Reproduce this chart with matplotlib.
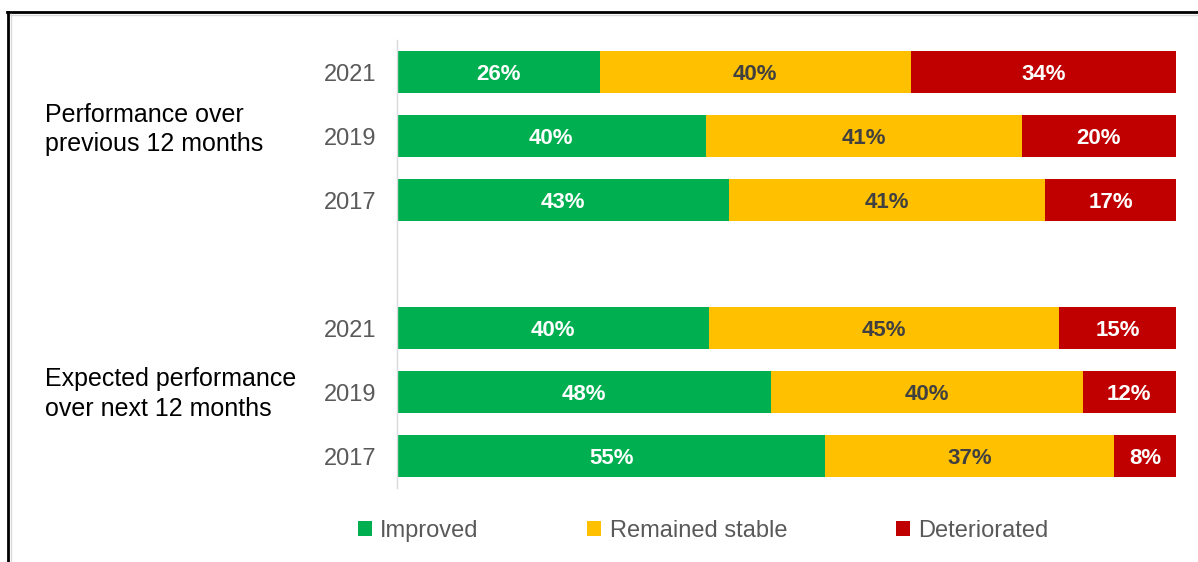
import matplotlib
matplotlib.use('Agg')
import matplotlib.pyplot as plt
import matplotlib.transforms as mtransforms
from matplotlib.patches import Patch
from matplotlib.lines import Line2D
import numpy as np

plt.rcParams['font.family'] = ['Liberation Sans', 'DejaVu Sans']

# --- survey shares (%), top row first
years = ["2021", "2019", "2017", "2021", "2019", "2017"]
improved = [26, 40, 43, 40, 48, 55]
stable = [40, 41, 41, 45, 40, 37]
deteriorated = [34, 20, 17, 15, 12, 8]
groups = ["Performance over\nprevious 12 months",
          "Expected performance\nover next 12 months"]
series_names = ["Improved", "Remained stable", "Deteriorated"]

colors = ["#00B050", "#FFC000", "#C00000"]
label_colors = ["white", "#404040", "white"]

# --- rows 0-2 and 4-6, leaving an empty slot between the two groups
ypos = np.array([0, 1, 2, 4, 5, 6])
vals = np.array([improved, stable, deteriorated], dtype=float)
totals = vals.sum(axis=0)
shares = vals / totals  # 100% stacked

fig = plt.figure(figsize=(11.98, 5.62), dpi=100)
ax = fig.add_axes([397/1198, 1-488/562, 779/1198, 448/562])

left = np.zeros(len(years))
for k in range(3):
    ax.barh(ypos, shares[k], left=left, height=0.67, color=colors[k])
    for y, l, w, v in zip(ypos, left, shares[k], vals[k]):
        ax.text(l + w/2, y + 0.04, "%d%%" % v, ha='center', va='center',
                fontsize=16, fontweight='bold', color=label_colors[k])
    left = left + shares[k]

ax.set_xlim(0, 1)
ax.set_ylim(6.5, -0.5)
ax.set_yticks(ypos)
ax.set_yticklabels(years, fontsize=17, color="#595959")
ax.tick_params(axis='y', length=0, pad=15)
ax.set_xticks([])
for s in ["top", "right", "bottom"]:
    ax.spines[s].set_visible(False)
ax.spines["left"].set_color("#D9D9D9")
ax.spines["left"].set_linewidth(1.0)

# --- group titles on the far left
trans = mtransforms.blended_transform_factory(fig.transFigure, ax.transData)
ax.text(45/1198, 0.9, groups[0], transform=trans, ha='left', va='center',
        fontsize=18, color="black", linespacing=1.3)
ax.text(45/1198, 5.03, groups[1], transform=trans, ha='left', va='center',
        fontsize=18, color="black", linespacing=1.3)

# --- legend
handles = [Patch(facecolor=c, edgecolor='none') for c in colors]
leg = fig.legend(handles, series_names, loc='center', ncol=3,
                 bbox_to_anchor=(703/1198, 1-531/562), frameon=False,
                 fontsize=17, handlelength=0.6, handleheight=0.6,
                 handletextpad=0.35, columnspacing=4.6)
for t in leg.get_texts():
    t.set_color("#595959")

# --- frame lines along top and left edge
fig.add_artist(Line2D([7/1198, 1], [1-12/562, 1-12/562], transform=fig.transFigure,
                      color="black", lw=2))
fig.add_artist(Line2D([7/1198, 1], [1-14.5/562, 1-14.5/562], transform=fig.transFigure,
                      color="#D9D9D9", lw=1))
fig.add_artist(Line2D([8/1198, 8/1198], [0, 1-12/562], transform=fig.transFigure,
                      color="black", lw=2))
fig.add_artist(Line2D([10.5/1198, 10.5/1198], [0, 1-14/562], transform=fig.transFigure,
                      color="#D9D9D9", lw=1))

fig.savefig("out.png", dpi=100)
